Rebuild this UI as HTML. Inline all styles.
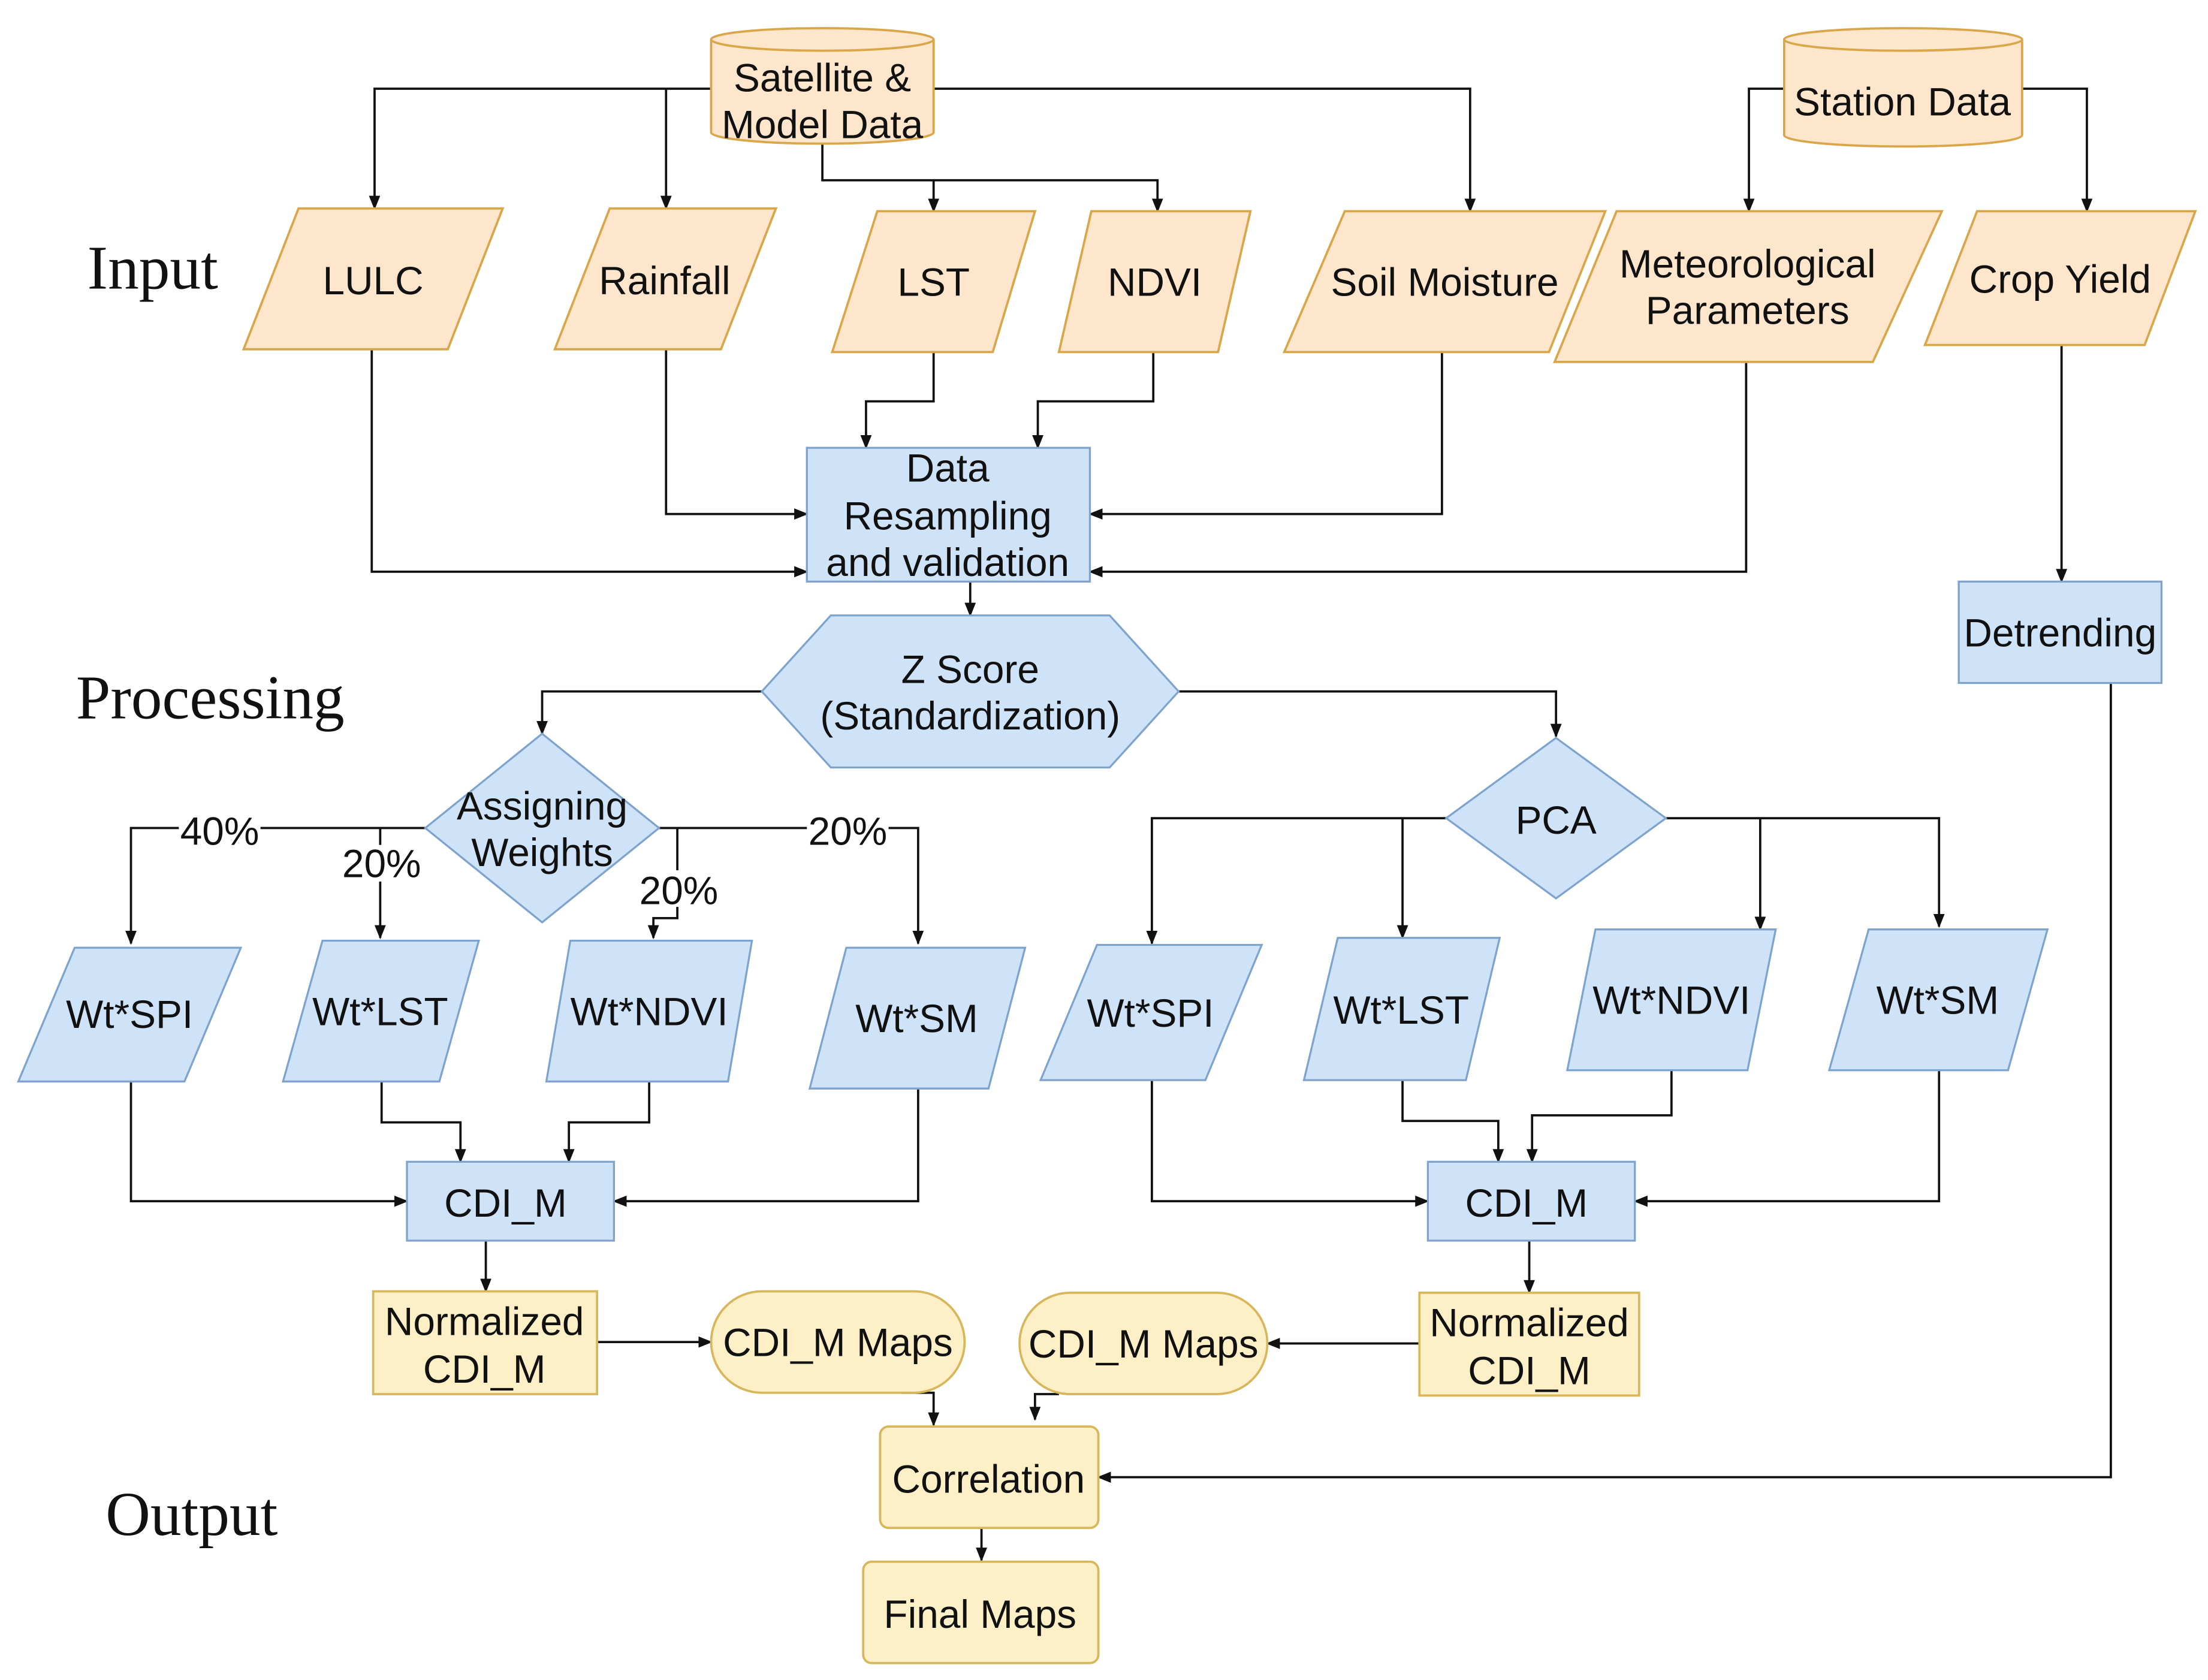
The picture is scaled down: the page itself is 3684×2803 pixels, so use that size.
<!DOCTYPE html>
<html><head><meta charset="utf-8"><style>
html,body{margin:0;padding:0;background:#fff;}
svg{display:block;}
text{font-family:"Liberation Sans",sans-serif;font-size:28px;fill:#111;text-anchor:middle;}
.t{font-family:"Liberation Serif",serif;font-size:44px;text-anchor:start;}
.o{fill:#fde6cb;stroke:#d9a64a;stroke-width:1.6;}
.b{fill:#cfe3f8;stroke:#7ea3cc;stroke-width:1.4;}
.y{fill:#fdefc6;stroke:#d8b65a;stroke-width:1.6;}
.l{fill:none;stroke:#111;stroke-width:1.6;}
</style></head><body>
<svg width="3684" height="2803" viewBox="0 0 1568 1193" preserveAspectRatio="none" xmlns="http://www.w3.org/2000/svg">
<defs><marker id="a" markerWidth="10" markerHeight="10" refX="9" refY="5" orient="auto" markerUnits="userSpaceOnUse"><path d="M0,1 L10,5 L0,9 Z" fill="#111"/></marker></defs>
<rect width="1568" height="1193" fill="#fff"/>
<text class="t" x="62" y="205">Input</text>
<text class="t" x="54" y="510">Processing</text>
<text class="t" x="75" y="1090">Output</text>

<g class="l" marker-end="url(#a)">
<path d="M505,63 H266 V148"/>
<path d="M473,63 V148"/>
<path d="M663,63 H1044 V150"/>
<path d="M584,102 V128 H663 V150"/>
<path d="M663,128 H822 V150"/>
<path d="M1267,63 H1242 V150"/>
<path d="M1436,63 H1482 V150"/>
<path d="M264,248 V406 H573"/>
<path d="M473,248 V365 H573"/>
<path d="M663,250 V285 H615 V318"/>
<path d="M819,250 V285 H737 V318"/>
<path d="M1024,250 V365 H774"/>
<path d="M1240,257 V406 H774"/>
<path d="M1464,245 V413"/>
<path d="M1499,485 V1049 H780"/>
<path d="M689,413 V437"/>
<path d="M541,491 H385 V521"/>
<path d="M837,491 H1105 V523"/>
<path d="M302,588 H93 V670"/>
<path d="M270,588 V666"/>
<path d="M468,588 H652 V670"/>
<path d="M481,588 V652 H464 V666"/>
<path d="M93,768 V853 H289"/>
<path d="M271,768 V797 H327 V825"/>
<path d="M461,768 V797 H404 V825"/>
<path d="M652,773 V853 H436"/>
<path d="M345,881 V917"/>
<path d="M424,953 H505"/>
<path d="M1027,581 H818 V670"/>
<path d="M996,581 V666"/>
<path d="M1183,581 H1377 V658"/>
<path d="M1250,581 V660"/>
<path d="M818,767 V853 H1014"/>
<path d="M996,767 V796 H1064 V825"/>
<path d="M1187,760 V792 H1088 V825"/>
<path d="M1377,760 V853 H1161"/>
<path d="M1086,881 V918"/>
<path d="M1008,954 H900"/>
<path d="M640,989 H663 V1012"/>
<path d="M752,990 H735 V1008"/>
<path d="M697,1085 V1108"/>
</g>

<path class="o" d="M505,28 V94 A79,8 0 0 0 663,94 V28"/>
<ellipse class="o" cx="584" cy="28" rx="79" ry="8"/>
<text x="584" y="65">Satellite &amp;</text><text x="584" y="98">Model Data</text>
<path class="o" d="M1267,28 V96 A84.5,8 0 0 0 1436,96 V28"/>
<ellipse class="o" cx="1351.5" cy="28" rx="84.5" ry="8"/>
<text x="1351" y="82">Station Data</text>

<polygon class="o" points="212,148 357,148 318,248 173,248"/><text x="265" y="209">LULC</text>
<polygon class="o" points="433,148 551,148 512,248 394,248"/><text x="472" y="209">Rainfall</text>
<polygon class="o" points="623,150 735,150 705,250 591,250"/><text x="663" y="210">LST</text>
<polygon class="o" points="775,150 888,150 865,250 752,250"/><text x="820" y="210">NDVI</text>
<polygon class="o" points="955,150 1140,150 1100,250 912,250"/><text x="1026" y="210">Soil Moisture</text>
<polygon class="o" points="1148,150 1379,150 1330,257 1104,257"/><text x="1241" y="197">Meteorological</text><text x="1241" y="230">Parameters</text>
<polygon class="o" points="1404,150 1559,150 1523,245 1367,245"/><text x="1463" y="208">Crop Yield</text>

<rect class="b" x="573" y="318" width="201" height="95"/>
<text x="673" y="342">Data</text><text x="673" y="376">Resampling</text><text x="673" y="409">and validation</text>
<rect class="b" x="1391" y="413" width="144" height="72"/><text x="1463" y="459">Detrending</text>

<polygon class="b" points="541,491 590,437 788,437 837,491 788,545 590,545"/>
<text x="689" y="485">Z Score</text><text x="689" y="518">(Standardization)</text>
<polygon class="b" points="385,521 468,588 385,655 302,588"/>
<text x="385" y="582">Assigning</text><text x="385" y="615">Weights</text>
<polygon class="b" points="1105,524 1183,581 1105,638 1027,581"/><text x="1105" y="592">PCA</text>

<g>
<rect x="127" y="576" width="58" height="26" fill="#fff"/><text x="156" y="600">40%</text>
<rect x="242" y="600" width="57" height="26" fill="#fff"/><text x="271" y="623">20%</text>
<rect x="573" y="576" width="58" height="26" fill="#fff"/><text x="602" y="600">20%</text>
<rect x="453" y="618" width="58" height="26" fill="#fff"/><text x="482" y="642">20%</text>
</g>

<polygon class="b" points="53,673 171,673 131,768 13,768"/><text x="92" y="730">Wt*SPI</text>
<polygon class="b" points="229,668 340,668 312,768 201,768"/><text x="270" y="728">Wt*LST</text>
<polygon class="b" points="405,668 534,668 517,768 388,768"/><text x="461" y="728">Wt*NDVI</text>
<polygon class="b" points="601,673 728,673 702,773 575,773"/><text x="651" y="733">Wt*SM</text>
<polygon class="b" points="779,671 896,671 856,767 739,767"/><text x="817" y="729">Wt*SPI</text>
<polygon class="b" points="950,666 1065,666 1041,767 926,767"/><text x="995" y="727">Wt*LST</text>
<polygon class="b" points="1133,660 1261,660 1241,760 1113,760"/><text x="1187" y="720">Wt*NDVI</text>
<polygon class="b" points="1327,660 1454,660 1426,760 1299,760"/><text x="1376" y="720">Wt*SM</text>

<rect class="b" x="289" y="825" width="147" height="56"/><text x="359" y="864">CDI_M</text>
<rect class="b" x="1014" y="825" width="147" height="56"/><text x="1084" y="864">CDI_M</text>

<rect class="y" x="265" y="917" width="159" height="73"/><text x="344" y="948">Normalized</text><text x="344" y="982">CDI_M</text>
<rect class="y" x="1008" y="918" width="156" height="73"/><text x="1086" y="949">Normalized</text><text x="1086" y="983">CDI_M</text>
<rect class="y" x="505" y="917" width="180" height="72" rx="36"/><text x="595" y="963">CDI_M Maps</text>
<rect class="y" x="724" y="918" width="176" height="72" rx="36"/><text x="812" y="964">CDI_M Maps</text>
<rect class="y" x="625" y="1013" width="155" height="72" rx="6"/><text x="702" y="1060">Correlation</text>
<rect class="y" x="613" y="1109" width="167" height="72" rx="6"/><text x="696" y="1156">Final Maps</text>
</svg>
</body></html>
